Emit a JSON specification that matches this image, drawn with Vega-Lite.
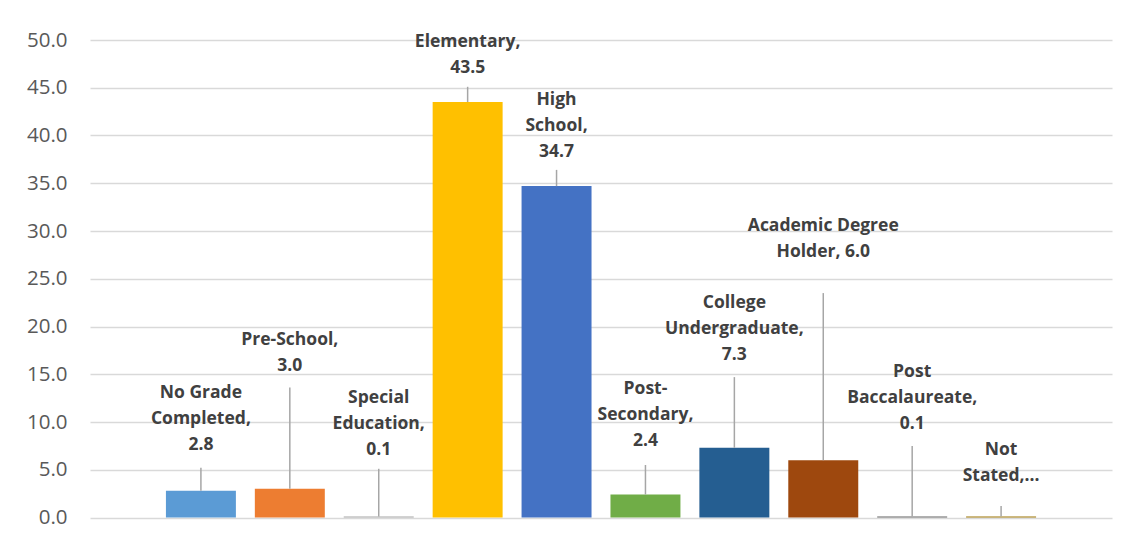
{
  "$schema": "https://vega.github.io/schema/vega-lite/v6.json",
  "autosize": {"type": "none"},
  "width": 1022,
  "height": 477.5,
  "padding": {"left": 90, "top": 40, "right": 24, "bottom": 23.5},
  "background": "white",
  "config": {
    "view": {"stroke": null},
    "font": "Open Sans"
  },
  "data": {
    "values": [
      {"category": "No Grade Completed", "value": 2.8, "label": ["No Grade", "Completed,", "2.8"], "labelAt": 13.0, "leaderTop": 5.2, "color": "#5b9bd5"},
      {"category": "Pre-School", "value": 3.0, "label": ["Pre-School,", "3.0"], "labelAt": 18.6, "leaderTop": 13.6, "color": "#ed7d31"},
      {"category": "Special Education", "value": 0.1, "label": ["Special", "Education,", "0.1"], "labelAt": 12.5, "leaderTop": 5.1, "color": "#a5a5a5"},
      {"category": "Elementary", "value": 43.5, "label": ["Elementary,", "43.5"], "labelAt": 49.8, "leaderTop": 45.1, "color": "#ffc000"},
      {"category": "High School", "value": 34.7, "label": ["High", "School,", "34.7"], "labelAt": 43.7, "leaderTop": 36.4, "color": "#4472c4"},
      {"category": "Post-Secondary", "value": 2.4, "label": ["Post-", "Secondary,", "2.4"], "labelAt": 13.5, "leaderTop": 5.5, "color": "#70ad47"},
      {"category": "College Undergraduate", "value": 7.3, "label": ["College", "Undergraduate,", "7.3"], "labelAt": 22.5, "leaderTop": 14.7, "color": "#255e91"},
      {"category": "Academic Degree Holder", "value": 6.0, "label": ["Academic Degree", "Holder, 6.0"], "labelAt": 30.5, "leaderTop": 23.5, "color": "#9e480e"},
      {"category": "Post Baccalaureate", "value": 0.1, "label": ["Post", "Baccalaureate,", "0.1"], "labelAt": 15.2, "leaderTop": 7.5, "color": "#636363"},
      {"category": "Not Stated", "value": 0.1, "label": ["Not", "Stated,..."], "labelAt": 7.1, "leaderTop": 1.2, "color": "#997300"}
    ]
  },
  "encoding": {
    "x": {
      "field": "category",
      "type": "nominal",
      "sort": null,
      "scale": {"paddingInner": 0.213, "paddingOuter": 0.854},
      "axis": null
    }
  },
  "layer": [
    {
      "mark": {"type": "bar"},
      "encoding": {
        "y": {
          "field": "value",
          "type": "quantitative",
          "scale": {"domain": [0, 50], "nice": false},
          "axis": {
            "title": null,
            "values": [0, 5, 10, 15, 20, 25, 30, 35, 40, 45, 50],
            "format": ".1f",
            "domain": false,
            "ticks": false,
            "labelPadding": 23,
            "labelFontSize": 20.5,
            "labelColor": "#595959",
            "labelFont": "Open Sans",
            "grid": true,
            "gridColor": "#d9d9d9",
            "gridWidth": 1.5
          }
        },
        "color": {"field": "color", "type": "nominal", "scale": null}
      }
    },
    {
      "mark": {"type": "rule", "color": "#a6a6a6", "strokeWidth": 1.5},
      "encoding": {
        "y": {"field": "leaderTop", "type": "quantitative"},
        "y2": {"field": "value"}
      }
    },
    {
      "mark": {
        "type": "text",
        "baseline": "middle",
        "align": "center",
        "fontSize": 17.5,
        "fontWeight": "bold",
        "lineHeight": 26,
        "color": "#404040",
        "font": "Open Sans"
      },
      "encoding": {
        "y": {"field": "labelAt", "type": "quantitative"},
        "text": {"field": "label"}
      }
    }
  ]
}
